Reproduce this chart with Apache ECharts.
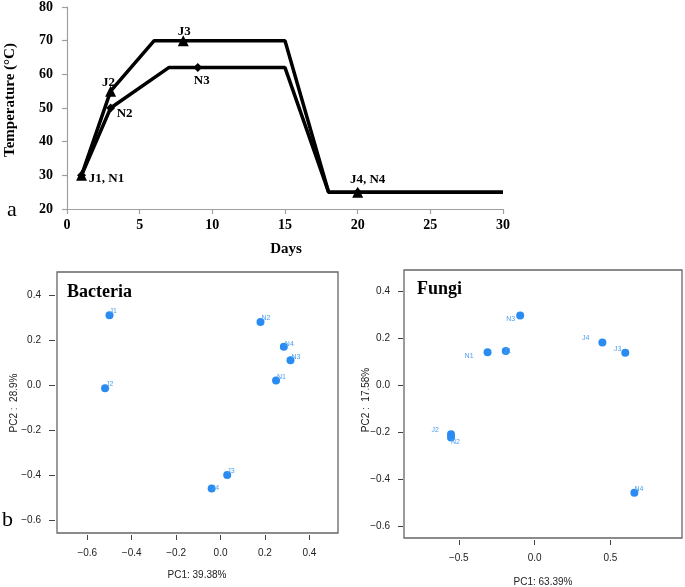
<!DOCTYPE html>
<html>
<head>
<meta charset="utf-8">
<script src="https://cdn.jsdelivr.net/npm/echarts@6/dist/echarts.min.js"></script>
<style>html,body{margin:0;padding:0;background:#fff;}#c{width:685px;height:587px;}</style>
</head>
<body>
<div id="c"></div>
<script>
// ---- Panel a: temperature profile ----
const jDays = [1, 3, 6, 8, 15, 18, 20, 30];
const jTemp = [30, 55, 70, 70, 70, 25, 25, 25];
const jLabels = ['J1, N1', 'J2', '', 'J3', '', '', 'J4, N4', ''];
const nDays = [1, 3, 7, 9, 15, 18, 20, 30];
const nTemp = [30, 50, 62, 62, 62, 25, 25, 25];
const nLabels = ['', 'N2', '', 'N3', '', '', '', ''];
const nMarked = [true, true, false, true, false, false, true, false];
const dayTicks = [0, 5, 10, 15, 20, 25, 30];
const tempTicks = [20, 30, 40, 50, 60, 70, 80];

// ---- Panel b: PCA ----
const bactNames = ['J1', 'J2', 'J3', 'J4', 'N1', 'N2', 'N3', 'N4'];
const bactPC1 = [-0.50, -0.52, 0.03, -0.04, 0.25, 0.18, 0.315, 0.285];
const bactPC2 = [0.31, -0.015, -0.40, -0.46, 0.02, 0.28, 0.11, 0.17];
const bactXTicks = [-0.6, -0.4, -0.2, 0.0, 0.2, 0.4];
const bactYTicks = [-0.6, -0.4, -0.2, 0.0, 0.2, 0.4];

const fungiNames = ['J1', 'J2', 'J3', 'J4', 'N1', 'N2', 'N3', 'N4'];
const fungiPC1 = [-0.19, -0.551, 0.598, 0.447, -0.31, -0.551, -0.095, 0.658];
const fungiPC2 = [0.145, -0.208, 0.137, 0.181, 0.139, -0.222, 0.295, -0.456];
const fungiXTicks = [-0.5, 0.0, 0.5];
const fungiYTicks = [-0.6, -0.4, -0.2, 0.0, 0.2, 0.4];

// label placement (style, not data)
const jLabelOffset = [[25, 3], [-2, -9], null, [1, -9], null, null, [10, -13], null];
const nLabelOffset = [null, [14, 6], null, [4, 13], null, null, null, null];
const bactLabelPlace = [['left', 0, -4], ['left', 1, -4], ['left', 0, -4], ['left', 0, 0], ['left', 1, -3], ['left', 1, -4], ['left', 1, -3], ['left', 1, -3]];
const fungiLabelPlace = [['left', -2, 0], ['right', -12, -4], ['right', -4, -4], ['right', -13, -4], ['right', -14, 4], ['left', 0, 5], ['right', -5, 4], ['left', 0, -4]];

const serif = 'Liberation Serif';
const sans = 'Liberation Sans';
const ptColor = '#2A8CF0';
const lblColor = '#4FA0F0';

function fmt(v, d) { return (v < 0 ? '\u2212' : '') + Math.abs(v).toFixed(d); }

function lineData(days, temps, labels, offsets, marked, sym, size) {
  return days.map((d, i) => {
    const item = { value: [d, temps[i]] };
    item.symbol = marked[i] ? sym : 'none';
    item.symbolSize = size;
    if (labels[i]) {
      item.label = { show: true, formatter: labels[i], offset: offsets[i] };
    }
    return item;
  });
}

function scatterData(xs, ys, names, place) {
  return xs.map((x, i) => ({
    value: [x, ys[i]],
    label: { show: true, formatter: names[i], align: place[i][0], offset: [place[i][1], place[i][2]] }
  }));
}

const jMarked = jLabels.map(l => l !== '');

const pcaAxisLabel = (ticks, d, margin) => ({
  customValues: ticks, formatter: v => fmt(v, d), fontFamily: sans, fontSize: 10, color: '#222', margin: margin
});

const option = {
  animation: false,
  backgroundColor: '#fff',
  grid: [
    { left: 67, top: 7, width: 436, height: 202, show: false },
    { left: 57, top: 272, width: 281, height: 261, show: true, borderColor: '#666', borderWidth: 1.3, backgroundColor: 'transparent' },
    { left: 404, top: 270, width: 278, height: 268, show: true, borderColor: '#666', borderWidth: 1.3, backgroundColor: 'transparent' }
  ],
  xAxis: [
    { gridIndex: 0, type: 'value', min: dayTicks[0], max: dayTicks[dayTicks.length - 1], interval: 5,
      axisLine: { onZero: false, lineStyle: { color: '#a0a0a0', width: 1.2 } },
      axisTick: { show: true, length: 5, lineStyle: { color: '#a0a0a0', width: 1.2 } },
      axisLabel: { fontFamily: serif, fontWeight: 'bold', fontSize: 14, color: '#000', margin: 9 },
      splitLine: { show: false } },
    { gridIndex: 1, type: 'value', position: 'bottom', min: -0.7365, max: 0.529, offset: 2,
      axisLine: { show: false, onZero: false },
      axisTick: { show: true, customValues: bactXTicks, length: 5, lineStyle: { color: '#444' } },
      axisLabel: pcaAxisLabel(bactXTicks, 1, 13),
      splitLine: { show: false } },
    { gridIndex: 2, type: 'value', position: 'bottom', min: -0.861, max: 0.972, offset: 2,
      axisLine: { show: false, onZero: false },
      axisTick: { show: true, customValues: fungiXTicks, length: 5, lineStyle: { color: '#444' } },
      axisLabel: pcaAxisLabel(fungiXTicks, 1, 13),
      splitLine: { show: false } }
  ],
  yAxis: [
    { gridIndex: 0, type: 'value', min: tempTicks[0], max: tempTicks[tempTicks.length - 1], interval: 10,
      axisLine: { show: true, onZero: false, lineStyle: { color: '#a0a0a0', width: 1.2 } },
      axisTick: { show: true, length: 5, lineStyle: { color: '#a0a0a0', width: 1.2 } },
      axisLabel: { fontFamily: serif, fontWeight: 'bold', fontSize: 14, color: '#000', margin: 14 },
      splitLine: { show: false } },
    { gridIndex: 1, type: 'value', position: 'left', min: -0.658, max: 0.502, offset: 2,
      axisLine: { show: false, onZero: false },
      axisTick: { show: true, customValues: bactYTicks, length: 6, lineStyle: { color: '#444' } },
      axisLabel: pcaAxisLabel(bactYTicks, 1, 14),
      splitLine: { show: false } },
    { gridIndex: 2, type: 'value', position: 'left', min: -0.648, max: 0.488, offset: 1,
      axisLine: { show: false, onZero: false },
      axisTick: { show: true, customValues: fungiYTicks, length: 5, lineStyle: { color: '#444' } },
      axisLabel: pcaAxisLabel(fungiYTicks, 1, 13),
      splitLine: { show: false } }
  ],
  series: [
    { type: 'line', xAxisIndex: 0, yAxisIndex: 0, z: 3,
      data: lineData(nDays, nTemp, nLabels, nLabelOffset, nMarked, 'diamond', 9),
      lineStyle: { color: '#000', width: 3.5 }, itemStyle: { color: '#000' },
      label: { position: 'inside', align: 'center', verticalAlign: 'middle', fontFamily: serif, fontWeight: 'bold', fontSize: 13, color: '#000' } },
    { type: 'line', xAxisIndex: 0, yAxisIndex: 0, z: 4,
      data: lineData(jDays, jTemp, jLabels, jLabelOffset, jMarked, 'triangle', 11),
      lineStyle: { color: '#000', width: 3.5 }, itemStyle: { color: '#000' },
      label: { position: 'inside', align: 'center', verticalAlign: 'middle', fontFamily: serif, fontWeight: 'bold', fontSize: 13, color: '#000' } },
    { type: 'scatter', xAxisIndex: 1, yAxisIndex: 1, symbolSize: 8,
      itemStyle: { color: ptColor, opacity: 1 },
      data: scatterData(bactPC1, bactPC2, bactNames, bactLabelPlace),
      label: { position: 'inside', verticalAlign: 'middle', fontFamily: sans, fontSize: 7, color: lblColor } },
    { type: 'scatter', xAxisIndex: 2, yAxisIndex: 2, symbolSize: 8,
      itemStyle: { color: ptColor, opacity: 1 },
      data: scatterData(fungiPC1, fungiPC2, fungiNames, fungiLabelPlace),
      label: { position: 'inside', verticalAlign: 'middle', fontFamily: sans, fontSize: 7, color: lblColor } }
  ],
  graphic: [
    { type: 'text', x: 10, y: 100, rotation: Math.PI / 2,
      style: { text: 'Temperature (°C)', font: 'bold 15px "Liberation Serif"', fill: '#000', align: 'center', verticalAlign: 'middle' } },
    { type: 'text', x: 286, y: 249,
      style: { text: 'Days', font: 'bold 15px "Liberation Serif"', fill: '#000', align: 'center', verticalAlign: 'middle' } },
    { type: 'text', x: 7, y: 210,
      style: { text: 'a', font: '22px "Liberation Serif"', fill: '#000', align: 'left', verticalAlign: 'middle' } },
    { type: 'text', x: 2, y: 520,
      style: { text: 'b', font: '22px "Liberation Serif"', fill: '#000', align: 'left', verticalAlign: 'middle' } },
    { type: 'text', x: 67, y: 292,
      style: { text: 'Bacteria', font: 'bold 18px "Liberation Serif"', fill: '#000', align: 'left', verticalAlign: 'middle' } },
    { type: 'text', x: 417, y: 289,
      style: { text: 'Fungi', font: 'bold 18px "Liberation Serif"', fill: '#000', align: 'left', verticalAlign: 'middle' } },
    { type: 'text', x: 14, y: 403, rotation: Math.PI / 2,
      style: { text: 'PC2 :  28.9%', font: '10px "Liberation Sans"', fill: '#222', align: 'center', verticalAlign: 'middle' } },
    { type: 'text', x: 197, y: 575,
      style: { text: 'PC1: 39.38%', font: '10px "Liberation Sans"', fill: '#222', align: 'center', verticalAlign: 'middle' } },
    { type: 'text', x: 366, y: 400, rotation: Math.PI / 2,
      style: { text: 'PC2 :  17.58%', font: '10px "Liberation Sans"', fill: '#222', align: 'center', verticalAlign: 'middle' } },
    { type: 'text', x: 543, y: 582,
      style: { text: 'PC1: 63.39%', font: '10px "Liberation Sans"', fill: '#222', align: 'center', verticalAlign: 'middle' } }
  ]
};

const chart = echarts.init(document.getElementById('c'), null, { renderer: 'canvas' });
chart.setOption(option);
</script>
</body>
</html>
